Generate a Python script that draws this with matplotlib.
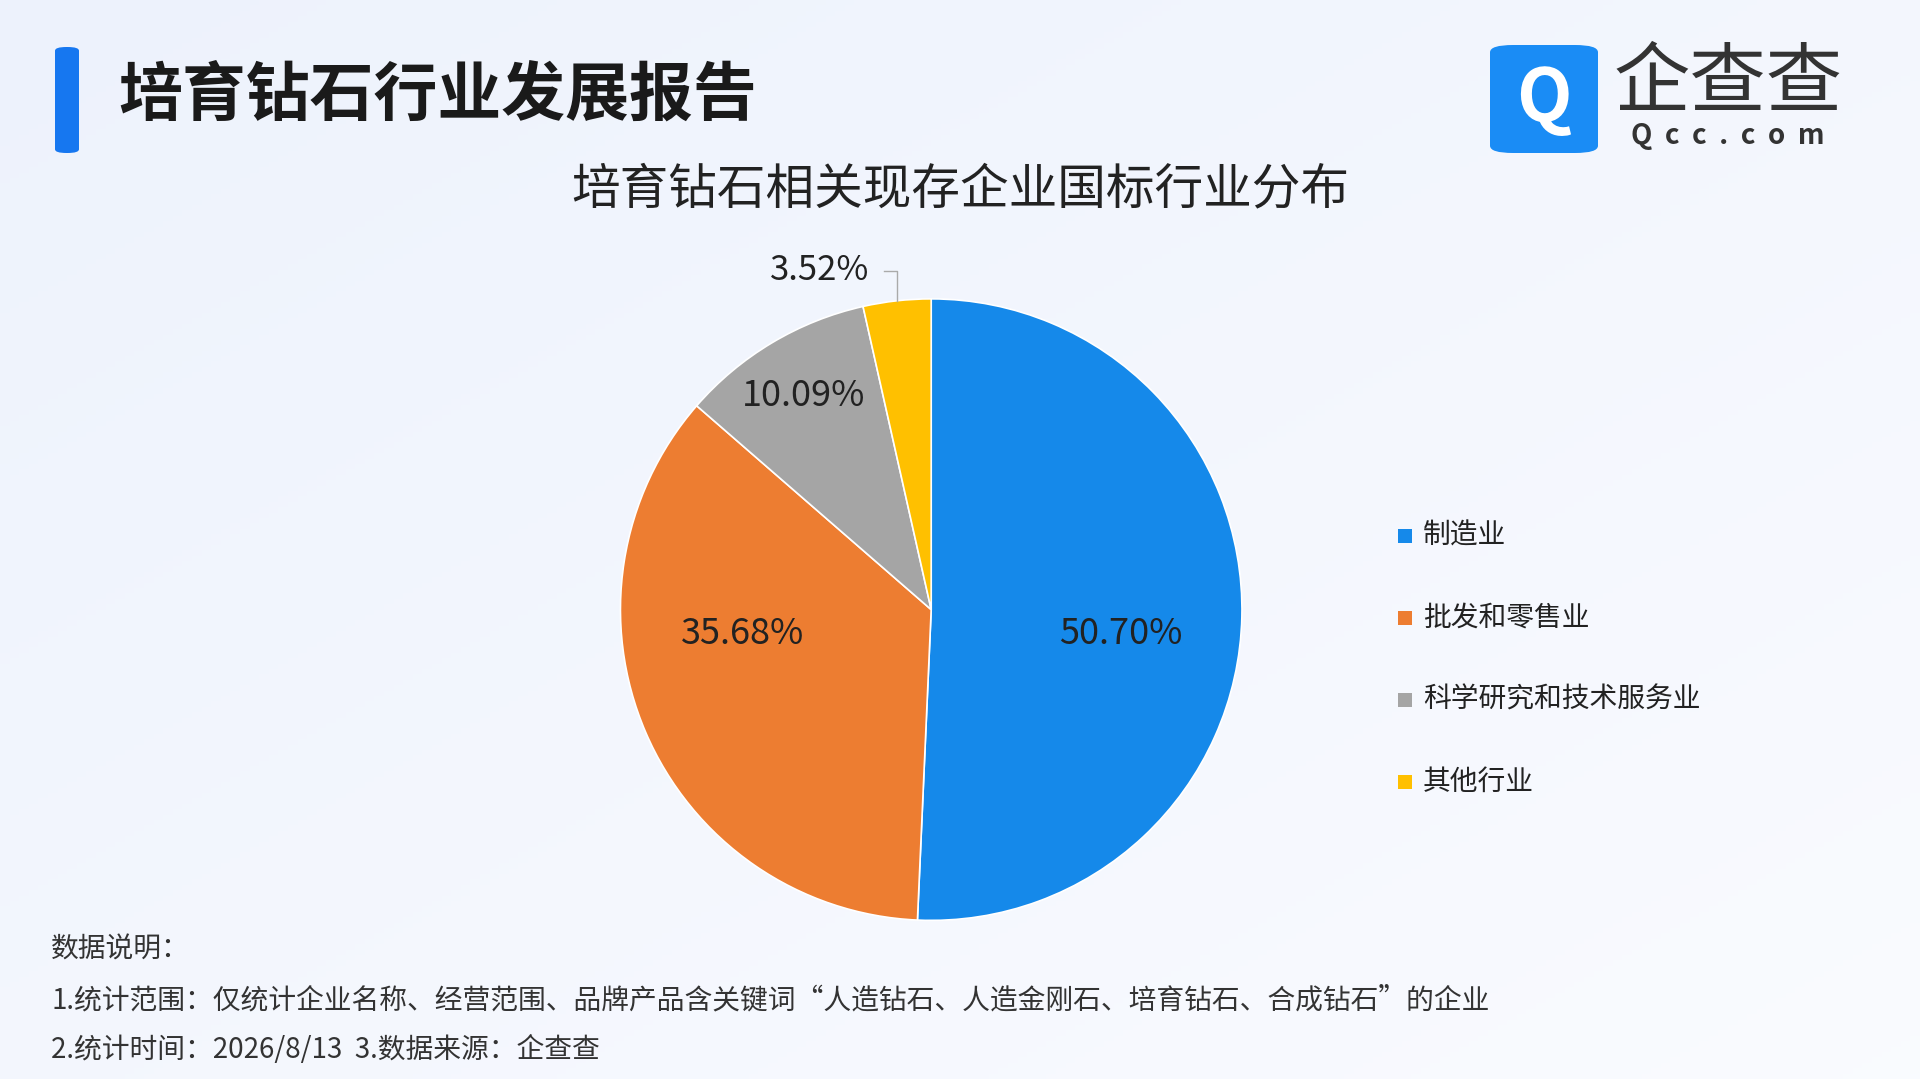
import numpy as np
import matplotlib
matplotlib.use("Agg")
import matplotlib.pyplot as plt
from matplotlib.patches import FancyBboxPatch, Rectangle

plt.rcParams['font.family'] = ['Noto Sans CJK SC', 'DejaVu Sans']

categories = ["制造业", "批发和零售业", "科学研究和技术服务业", "其他行业"]
values = [50.70, 35.68, 10.09, 3.52]
colors = ["#1589EA", "#ED7D31", "#A5A5A5", "#FFC000"]

W, H = 1920, 1079
fig = plt.figure(figsize=(19.2, 10.79), dpi=100)

bg = fig.add_axes([0, 0, 1, 1], zorder=-10)
yy, xx = np.mgrid[0:1:200j, 0:1:200j]
g = 0.5 * xx + 0.5 * (1 - yy)
c1 = np.array([0.93, 0.95, 0.99]); c2 = np.array([0.98, 0.985, 1.0])
img = c1[None, None, :] * (1 - g[..., None]) + c2[None, None, :] * g[..., None]
bg.imshow(img, extent=[0, 1, 0, 1], aspect='auto', origin='lower')
bg.set_xlim(0, 1); bg.set_ylim(0, 1); bg.axis('off')

bg.add_patch(FancyBboxPatch((55/W, 1 - 153/H), 24/W, 106/H,
             boxstyle="round,pad=0,rounding_size=0.006", fc="#1677F0", ec='none',
             mutation_aspect=H/W))
fig.text(118/W, 1 - 96/H, "培育钻石行业发展报告", fontsize=46, fontweight='bold',
         color="#1a1a1a", va='center')
bg.add_patch(FancyBboxPatch((1490/W, 1 - 153/H), 108/W, 108/H,
             boxstyle="round,pad=0,rounding_size=0.012", fc="#1A8CF5", ec='none',
             mutation_aspect=H/W))
fig.text(1544/W, 1 - 100/H, "Q", fontsize=52, fontweight='bold', color='white',
         ha='center', va='center')
fig.text(1728/W, 1 - 84/H, "企查查", fontsize=55, color="#333333", ha='center', va='center')
fig.text(1728/W, 1 - 136/H, "Q  c  c  .  c  o  m", fontsize=20, fontweight='bold',
         color="#333333", ha='center', va='center')

fig.text(0.5, 1 - 190/H, "培育钻石相关现存企业国标行业分布", fontsize=35,
         color="#222222", ha='center', va='center')

cx, cy, r = 0.485, 1 - 0.565, 0.288
rw = r * H / W
ax = fig.add_axes([cx - rw, cy - r, 2 * rw, 2 * r])
wedges, _ = ax.pie(values, colors=colors, startangle=90, counterclock=False,
                   radius=1, wedgeprops=dict(edgecolor='white', linewidth=1.2))
ax.set_xlim(-1, 1); ax.set_ylim(-1, 1); ax.set_aspect('equal'); ax.axis('off')

dists = [0.61, 0.66, 0.8]
for i, w in enumerate(wedges[:3]):
    ang = np.deg2rad((w.theta1 + w.theta2) / 2)
    x, y = dists[i] * np.cos(ang), dists[i] * np.sin(ang)
    if i < 2:
        y = -0.08
    ax.text(x, y, f"{values[i]:.2f}%", fontsize=26, ha='center', va='center', color='#222222')
w = wedges[3]
ang = np.deg2rad((w.theta1 + w.theta2) / 2)
x0, y0 = np.cos(ang), np.sin(ang)
ax.plot([x0, x0, x0 - 0.04], [y0, 1.09, 1.09], color='#aaaaaa', lw=1, clip_on=False)
ax.text(x0 - 0.09, 1.09, f"{values[3]:.2f}%", fontsize=25, ha='right', va='center',
        color='#222222')

for i, (c, col) in enumerate(zip(categories, colors)):
    yl = 1 - (536 + i * 82) / H
    bg.add_patch(Rectangle((1398/W, yl - 7/H), 14/W, 14/H, fc=col, ec='none'))
    fig.text(1423/W, yl, c, fontsize=20, va='center', color='#222222')

notes = ["数据说明：",
         "1.统计范围：仅统计企业名称、经营范围、品牌产品含关键词“人造钻石、人造金刚石、培育钻石、合成钻石”的企业",
         "2.统计时间：2026/8/13  3.数据来源：企查查"]
for i, t in enumerate(notes):
    fig.text(51/W, 1 - (950 + i * 50) / H, t, fontsize=20, va='center', color='#333333')

fig.savefig("out.png", dpi=100)
